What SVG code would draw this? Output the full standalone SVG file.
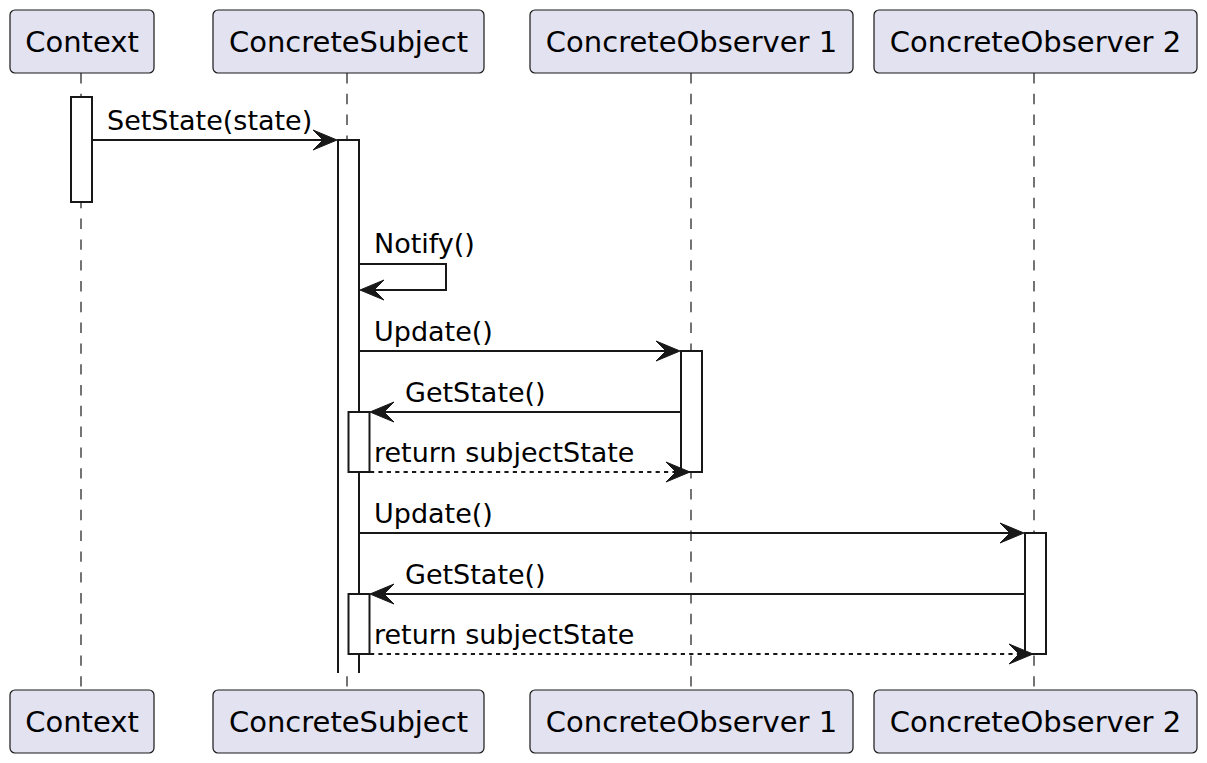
<svg xmlns="http://www.w3.org/2000/svg" width="1207" height="763" viewBox="0 0 1207 763">
<style>
.pbox{fill:#E2E2F0;stroke:#181818;stroke-width:1.2}
.ptxt{font-family:"DejaVu Sans",sans-serif;font-size:29px;fill:#000;text-anchor:middle}
.life{stroke:#181818;stroke-width:1.2;stroke-dasharray:10.4,10.4;fill:none}
.act{fill:#FFFFFF;stroke:#181818;stroke-width:2}
.msg{stroke:#181818;stroke-width:2;fill:none}
.ret{stroke:#181818;stroke-width:2;fill:none;stroke-dasharray:4.2,4.2}
.mtxt{font-family:"DejaVu Sans",sans-serif;font-size:27px;fill:#000}
.head{fill:#181818;stroke:#181818;stroke-width:1}
</style>
<defs>
<polygon id="ar" points="0,0 -24,-10 -14,0 -24,10"/>
<polygon id="al" points="0,0 24,-10 14,0 24,10"/>
</defs>
<g id="lifelines">
<line class="life" x1="81" y1="73" x2="81" y2="690"/>
<line class="life" x1="347" y1="73" x2="347" y2="690"/>
<line class="life" x1="691" y1="73" x2="691" y2="690"/>
<line class="life" x1="1034" y1="73" x2="1034" y2="690"/>
</g>
<g id="p-context">
<rect class="pbox" x="10" y="10" width="144" height="63" rx="5"/>
<text class="ptxt" x="82" y="52">Context</text>
<rect class="pbox" x="10" y="690" width="144" height="63" rx="5"/>
<text class="ptxt" x="82" y="732">Context</text>
</g>
<g id="p-subject">
<rect class="pbox" x="213" y="10" width="271" height="63" rx="5"/>
<text class="ptxt" x="348.5" y="52">ConcreteSubject</text>
<rect class="pbox" x="213" y="690" width="271" height="63" rx="5"/>
<text class="ptxt" x="348.5" y="732">ConcreteSubject</text>
</g>
<g id="p-observer1">
<rect class="pbox" x="530" y="10" width="323" height="63" rx="5"/>
<text class="ptxt" x="691.5" y="52">ConcreteObserver 1</text>
<rect class="pbox" x="530" y="690" width="323" height="63" rx="5"/>
<text class="ptxt" x="691.5" y="732">ConcreteObserver 1</text>
</g>
<g id="p-observer2">
<rect class="pbox" x="874" y="10" width="323" height="63" rx="5"/>
<text class="ptxt" x="1035.5" y="52">ConcreteObserver 2</text>
<rect class="pbox" x="874" y="690" width="323" height="63" rx="5"/>
<text class="ptxt" x="1035.5" y="732">ConcreteObserver 2</text>
</g>
<g id="activations">
<rect class="act" x="71" y="97" width="21" height="105"/>
<rect x="338" y="140" width="21" height="533" fill="#FFFFFF"/>
<path class="msg" d="M338,673 V140 H359 V673"/>
<rect class="act" x="348.5" y="412" width="21" height="60"/>
<rect class="act" x="348.5" y="594" width="21" height="60"/>
<rect class="act" x="681" y="351" width="21" height="121"/>
<rect class="act" x="1025" y="533" width="21" height="121"/>
</g>
<g id="connectors">
<line class="msg" x1="92" y1="140" x2="330" y2="140"/>
<use href="#ar" class="head" x="337" y="140"/>
<text class="mtxt" x="107" y="130">SetState(state)</text>

<path class="msg" d="M359,264 H446 V290 H366"/>
<use href="#al" class="head" x="360" y="290"/>
<text class="mtxt" x="374" y="253">Notify()</text>

<line class="msg" x1="359" y1="351" x2="674" y2="351"/>
<use href="#ar" class="head" x="680" y="351"/>
<text class="mtxt" x="374" y="341">Update()</text>

<line class="msg" x1="681" y1="412" x2="376" y2="412"/>
<use href="#al" class="head" x="370" y="412"/>
<text class="mtxt" x="405" y="402">GetState()</text>

<line class="ret" x1="370" y1="472" x2="684" y2="472"/>
<use href="#ar" class="head" x="690" y="472"/>
<text class="mtxt" x="374" y="462">return subjectState</text>

<line class="msg" x1="359" y1="533" x2="1018" y2="533"/>
<use href="#ar" class="head" x="1024" y="533"/>
<text class="mtxt" x="374" y="523">Update()</text>

<line class="msg" x1="1025" y1="594" x2="376" y2="594"/>
<use href="#al" class="head" x="370" y="594"/>
<text class="mtxt" x="405" y="584">GetState()</text>

<line class="ret" x1="370" y1="654" x2="1027" y2="654"/>
<use href="#ar" class="head" x="1033" y="654"/>
<text class="mtxt" x="374" y="644">return subjectState</text>
</g>
</svg>
